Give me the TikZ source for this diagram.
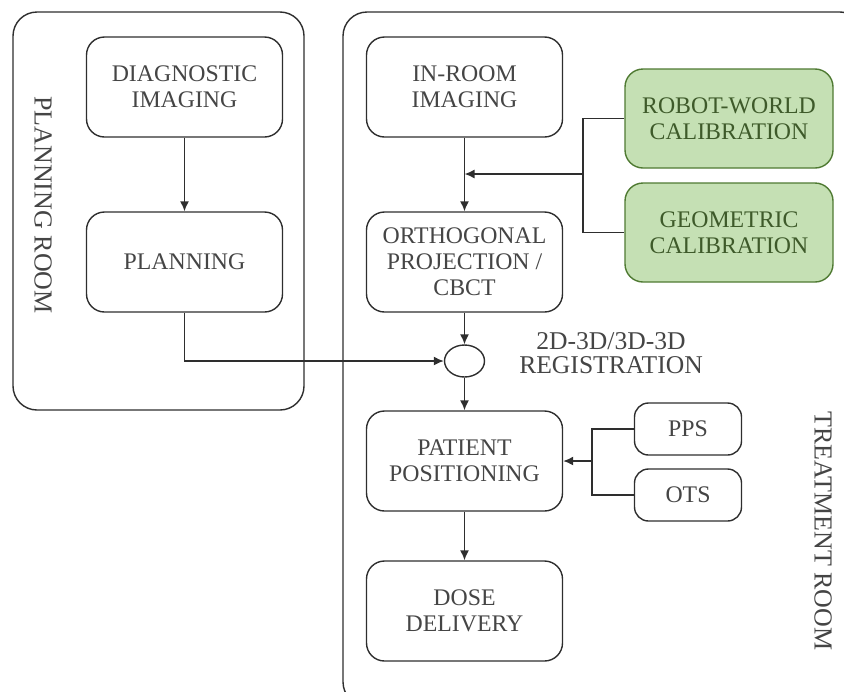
\documentclass[tikz,border=0pt]{standalone}
\usepackage{fontspec}
\setmainfont{Liberation Serif}
\usetikzlibrary{arrows.meta}
\usetikzlibrary{shapes.geometric}

\definecolor{linegray}{HTML}{2E2E2E}
\definecolor{textgray}{HTML}{454545}
\definecolor{calfill}{HTML}{C5E0B4}
\definecolor{caldraw}{HTML}{4F7A32}
\definecolor{caltext}{HTML}{3E5A2A}

\begin{document}
\begin{tikzpicture}[x=0.5pt,y=-0.5pt,
    roombox/.style={draw=linegray,line width=0.7pt,rounded corners=12pt},
    roomlabel/.style={rotate=-90,text=textgray,font=\fontsize{13}{14}\selectfont},
    stepbox/.style={draw=linegray,line width=0.7pt,rounded corners=9pt,align=center,
        minimum width=98pt,minimum height=50pt,inner sep=0pt,text=textgray,
        font=\fontsize{11.9}{13}\selectfont},
    calbox/.style={stepbox,fill=calfill,draw=caldraw,text=caltext,
        minimum width=104pt,minimum height=49.5pt},
    smallbox/.style={stepbox,minimum width=53.5pt,minimum height=26pt,rounded corners=7pt},
    link/.style={draw=linegray,line width=0.75pt},
    arrow/.style={link,-{Latex[length=5pt,width=4.5pt]}}]

    \useasboundingbox (0,0) rectangle (844,691);

    \begin{scope}
        \clip (0,0) rectangle (844,691);
        \draw[roombox] (13,12) rectangle (304,410);
        \draw[roombox] (343,12) rectangle (864,706);
    \end{scope}

    \node[roomlabel](planroom)at(43,205){PLANNING ROOM};
    \node[roomlabel](treatroom)at(823,531){TREATMENT ROOM};

    \node[stepbox](diag)at(184.5,87){DIAGNOSTIC\\IMAGING};
    \node[stepbox](plan)at(184.5,262){PLANNING};

    \node[stepbox](inroom)at(464.5,87){IN-ROOM\\IMAGING};
    \node[stepbox](ortho)at(464.5,262){ORTHOGONAL\\PROJECTION /\\CBCT};
    \node[calbox](robot)at(729,118.5){ROBOT-WORLD\\CALIBRATION};
    \node[calbox](geo)at(729,232.5){GEOMETRIC\\CALIBRATION};

    \node[draw=linegray,line width=0.7pt,ellipse,minimum width=20pt,minimum height=16pt,inner sep=0pt](reg)at(464.5,361){};
    \node[text=textgray,align=center,font=\fontsize{12.8}{12}\selectfont](reglabel)at(611,353){2D-3D/3D-3D\\REGISTRATION};

    \node[stepbox](patient)at(464.5,461){PATIENT\\POSITIONING};
    \node[smallbox](pps)at(688,429){PPS};
    \node[smallbox](ots)at(688,495){OTS};
    \node[stepbox](dose)at(464.5,611){DOSE\\DELIVERY};

    \coordinate(calj)at(583,174);
    \coordinate(trackj)at(592,461);

    \draw[arrow](diag)--(plan);
    \draw[arrow](plan.south)|-(reg.west);
    \draw[arrow](inroom)--(ortho);
    \draw[link](robot.west)-|(calj)|-(geo.west);
    \draw[arrow](calj)--(calj-|inroom.south);
    \draw[arrow](ortho)--(reg);
    \draw[arrow](reg)--(patient);
    \draw[link](pps.west)-|(trackj)|-(ots.west);
    \draw[arrow](trackj)--(patient.east);
    \draw[arrow](patient)--(dose);

\end{tikzpicture}
\end{document}
